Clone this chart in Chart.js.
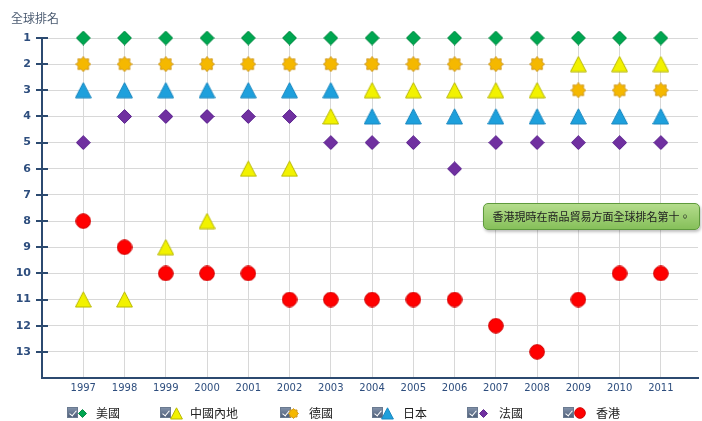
<!DOCTYPE html>
<html>
<head>
<meta charset="utf-8">
<script src="https://cdn.jsdelivr.net/npm/chart.js@4.4.1/dist/chart.umd.min.js"></script>
<style>
html,body{margin:0;padding:0;background:#fff;}
#wrap{position:relative;width:702px;height:421px;overflow:hidden;font-family:"DejaVu Sans",Verdana,sans-serif;}
#title{position:absolute;left:11px;top:9px;font-size:12px;color:#4a5a70;font-family:"Noto Sans CJK TC","Noto Sans",sans-serif;}
#note{position:absolute;left:483px;top:203px;width:215px;height:25px;border:1px solid #5e9a3c;border-radius:5px;
 background:linear-gradient(#b4dc8c,#86c05a);box-shadow:1px 2px 3px rgba(0,0,0,0.25);
 font-family:"Noto Sans CJK TC",sans-serif;font-size:11px;color:#222;line-height:25px;text-align:center;}
.leg{position:absolute;top:405px;height:16px;font-family:"Noto Sans CJK TC",sans-serif;font-size:12px;color:#222;}
.cb{position:absolute;top:2px;width:11px;height:11px;border:1px solid #6a7a90;background:linear-gradient(#8090a8,#50607a);box-sizing:border-box;}
.cb:after{content:"";position:absolute;left:3px;top:1px;width:3px;height:6px;border:solid #fff;border-width:0 1.5px 1.5px 0;transform:rotate(40deg);}
.lt{position:absolute;top:0px;line-height:16px;white-space:nowrap;}
</style>
</head>
<body>
<div id="wrap">
<canvas id="c" width="702" height="421"></canvas>
<div id="title">全球排名</div>
<div id="note">香港現時在商品貿易方面全球排名第十。</div>
<div id="legend"></div>
</div>
<script>
const years = [1997,1998,1999,2000,2001,2002,2003,2004,2005,2006,2007,2008,2009,2010,2011];
const seriesNames = ['美國','中國內地','德國','日本','法國','香港'];
const usa     = [1,1,1,1,1,1,1,1,1,1,1,1,1,1,1];
const china   = [11,11,9,8,6,6,4,3,3,3,3,3,2,2,2];
const germany = [2,2,2,2,2,2,2,2,2,2,2,2,3,3,3];
const japan   = [3,3,3,3,3,3,3,4,4,4,4,4,4,4,4];
const france  = [5,4,4,4,4,4,5,5,5,6,5,5,5,5,5];
const hongkong= [8,9,10,10,10,11,11,11,11,11,12,13,11,10,10];
const rankTicks = [1,2,3,4,5,6,7,8,9,10,11,12,13];

function makeMarker(type, size, fill, stroke){
  const c = document.createElement('canvas');
  c.width = size; c.height = size;
  const g = c.getContext('2d');
  const h = size/2;
  g.fillStyle = fill; g.strokeStyle = stroke; g.lineWidth = 1;
  g.beginPath();
  if(type==='diamond'){
    g.moveTo(h,0.5); g.lineTo(size-0.5,h); g.lineTo(h,size-0.5); g.lineTo(0.5,h); g.closePath();
  } else if(type==='triangle'){
    g.moveTo(h,0.8); g.lineTo(size-0.6,size-1); g.lineTo(0.6,size-1); g.closePath();
  } else if(type==='circle'){
    g.arc(h,h,h-0.7,0,Math.PI*2);
  } else if(type==='star'){
    const n=8, ro=h-0.5, ri=h*0.68;
    for(let i=0;i<n*2;i++){
      const r = i%2===0?ro:ri;
      const a = -Math.PI/2 + i*Math.PI/n;
      const x = h + r*Math.cos(a), y = h + r*Math.sin(a);
      if(i===0) g.moveTo(x,y); else g.lineTo(x,y);
    }
    g.closePath();
  }
  g.fill(); g.stroke();
  return c;
}

const styles = [
  {type:'diamond', fill:'#00a651', stroke:'#0a8a45', size:15},
  {type:'triangle', fill:'#f2f200', stroke:'#b8b800', size:17},
  {type:'star', fill:'#f5b800', stroke:'#d09a20', size:16},
  {type:'triangle', fill:'#1ea0dc', stroke:'#1a88c0', size:17},
  {type:'diamond', fill:'#7030a0', stroke:'#5e2890', size:15},
  {type:'circle', fill:'#ff0000', stroke:'#d00000', size:16}
];
const values = [usa, china, germany, japan, france, hongkong];

const datasets = values.map((v,i)=>({
  label: seriesNames[i],
  data: years.map((y,j)=>({x:y, y:v[j]})),
  pointStyle: makeMarker(styles[i].type, styles[i].size, styles[i].fill, styles[i].stroke),
  showLine:false,
  clip:false,
  pointRadius:8,
  pointHoverRadius:8
}));

const fixArea = {
  id:'fixArea',
  afterLayout(chart){
    const xs = chart.scales.x;
    const R = 698;
    xs.right = R; xs.width = R - xs.left;
    xs.configure();
    chart.chartArea.right = R;
    chart.chartArea.width = R - chart.chartArea.left;
  }
};

const crossTicks = {
  id:'crossTicks',
  afterDraw(chart){
    const g = chart.ctx, ys = chart.scales.y, a = chart.chartArea;
    g.save(); g.strokeStyle='#2c4a70'; g.lineWidth=2;
    rankTicks.forEach(t=>{
      const py = Math.round(ys.getPixelForValue(t));
      g.beginPath(); g.moveTo(a.left-6,py); g.lineTo(a.left+6,py); g.stroke();
    });
    g.restore();
  }
};

new Chart(document.getElementById('c'), {
  type:'scatter',
  data:{datasets},
  plugins:[fixArea, crossTicks],
  options:{
    responsive:false, animation:false,
    layout:{padding:{top:38,right:2,left:0,bottom:0}},
    plugins:{legend:{display:false}, tooltip:{enabled:false}},
    scales:{
      x:{
        type:'linear', min:1996, max:2011.9,
        afterFit(s){ s.height = 43; },
        afterBuildTicks(s){ s.ticks = [{value:1996}].concat(years.map(v=>({value:v}))); },
        ticks:{autoSkip:false, maxRotation:0, color:'#2e4e7e', padding:4,
          font:{family:'"DejaVu Sans", Verdana, sans-serif', size:10},
          callback:(v)=> (years.includes(v) ? String(v) : '')},
        grid:{color:(ctx)=> (ctx.tick && years.includes(ctx.tick.value)) ? '#d8d8d8' : 'rgba(0,0,0,0)', drawTicks:false, lineWidth:1},
        border:{color:'#2c4a70', width:2}
      },
      y:{
        type:'linear', min:1, max:14, reverse:true,
        afterFit(s){ s.width = 42; },
        afterBuildTicks(s){ s.ticks = rankTicks.map(v=>({value:v})).concat([{value:14}]); },
        ticks:{color:'#2e4e7e', padding:11,
          font:{family:'"DejaVu Sans", Verdana, sans-serif', size:11, weight:'bold'},
          callback:(v)=> (rankTicks.includes(v) ? String(v) : '')},
        grid:{color:(ctx)=> (ctx.tick && rankTicks.includes(ctx.tick.value)) ? '#d8d8d8' : 'rgba(0,0,0,0)', drawTicks:false, lineWidth:1},
        border:{color:'#2c4a70', width:2}
      }
    }
  }
});

// HTML legend
const legPos = [[67,82,96],[160,176,190],[280,293,309],[372,387,403],[467,483,499],[563,580,596]];
const legSizes = [9,13,11,13,9,12];
const legEl = document.getElementById('legend');
seriesNames.forEach((n,i)=>{
  const cb = document.createElement('div'); cb.className='cb leg'; cb.style.left=legPos[i][0]+'px'; cb.style.top='407px';
  legEl.appendChild(cb);
  const m = makeMarker(styles[i].type, legSizes[i], styles[i].fill, styles[i].stroke);
  m.className='leg'; m.style.left=(legPos[i][1]-legSizes[i]/2)+'px'; m.style.top=(413-legSizes[i]/2)+'px'; m.style.height=legSizes[i]+'px';
  legEl.appendChild(m);
  const t = document.createElement('div'); t.className='leg lt'; t.style.left=legPos[i][2]+'px'; t.style.top='405px'; t.textContent=n;
  legEl.appendChild(t);
});
</script>
</body>
</html>
